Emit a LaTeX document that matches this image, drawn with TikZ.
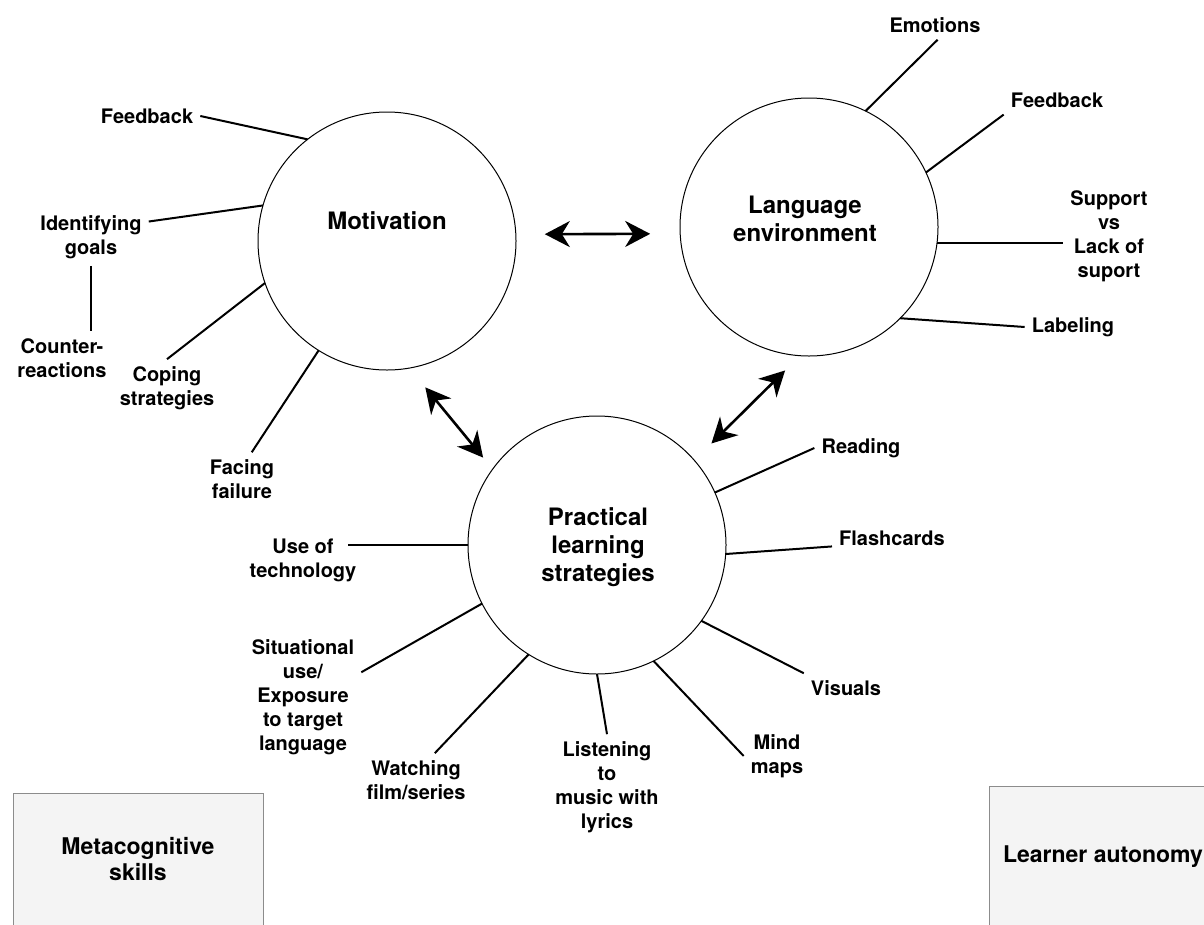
\documentclass[tikz,border=0pt]{standalone}
\usepackage{fontspec}
\setmainfont{TeX Gyre Heros}
\usetikzlibrary{arrows.meta}
\definecolor{boxfill}{HTML}{F4F4F4}
\definecolor{boxline}{HTML}{8C8C8C}

\begin{document}
\begin{tikzpicture}[x=1pt,y=-1pt,
    hub/.style={circle,draw,line width=1pt,minimum size=258pt,inner sep=0pt,outer sep=0pt},
    hubtext/.style={font=\fontsize{24}{28}\selectfont\bfseries,align=center},
    leaf/.style={font=\fontsize{20}{24}\selectfont\bfseries,align=center,inner sep=7pt},
    spoke/.style={line width=2pt},
    link/.style={line width=2.6pt,{Stealth[length=25pt,width=26pt,inset=8pt]}-{Stealth[length=25pt,width=26pt,inset=8pt]}},
    corner/.style={draw=boxline,fill=boxfill,line width=1pt,font=\fontsize{23}{26}\selectfont\bfseries,align=center}]
    \path[use as bounding box] (0,0) rectangle (1204,924);
    \clip (0,0) rectangle (1204,924);

    \node[hub] (mot) at (387,241) {};
    \node[hubtext] (mot-t) at (387,221) {Motivation};
    \node[hub] (lan) at (809,227) {};
    \node[hubtext] (lan-t) at (805,219) {Language\\environment};
    \node[hub] (prs) at (597,545) {};
    \node[hubtext] (prs-t) at (598,547) {Practical\\learning\\strategies};

    \node[leaf] (fb-m) at (147,116) {Feedback};
    \node[leaf] (goals) at (91,237) {Identifying\\goals};
    \node[leaf] (counter) at (62,358) {Counter-\\reactions};
    \node[leaf] (coping) at (167,388) {Coping\\strategies};
    \node[leaf] (failure) at (242,479) {Facing\\failure};

    \node[leaf] (emo) at (935,25) {Emotions};
    \node[leaf] (fb-l) at (1057,100) {Feedback};
    \node[leaf] (support) at (1109,236) {Support\\vs\\Lack of\\suport};
    \node[leaf] (label) at (1073,327) {Labeling};

    \node[leaf] (reading) at (861,448) {Reading};
    \node[leaf] (cards) at (892,538) {Flashcards};
    \node[leaf] (visuals) at (846,688) {Visuals};
    \node[leaf] (mind) at (777,756) {Mind\\maps};
    \node[leaf] (music) at (607,787) {Listening\\to\\music with\\lyrics};
    \node[leaf] (film) at (416,780) {Watching\\film/series};
    \node[leaf] (expo) at (303,697) {Situational\\use/\\Exposure\\to target\\language};
    \node[leaf] (tech) at (303,560) {Use of\\technology};

    \node[corner,minimum width=250pt,minimum height=132pt] (meta) at (138,859) {Metacognitive\\skills};
    \node[corner,minimum width=228pt,minimum height=142pt] (auto) at (1103,857) {Learner autonomy};

    \draw[spoke] (mot.128) -- (fb-m.east);
    \draw[spoke] (mot.164) -- (goals.15);
    \draw[spoke] (goals.south) -- (goals.south |- counter.north);
    \draw[spoke] (mot.199) -- (coping.north);
    \draw[spoke] (mot.238) -- (failure.70);

    \draw[spoke] (lan.64) -- (emo.-80);
    \draw[spoke] (lan.25) -- (fb-l.south west);
    \draw[spoke] (lan.-7) -- (lan.-7 -| support.west);
    \draw[spoke] (lan.-45) -- (label.west);

    \draw[spoke] (prs.24) -- (reading.west);
    \draw[spoke] (prs.-4) -- (cards.188);
    \draw[spoke] (prs.-36) -- (visuals.north west);
    \draw[spoke] (prs.-64) -- (mind.west);
    \draw[spoke] (prs.-90) -- (music.north);
    \draw[spoke] (prs.238) -- (film.55);
    \draw[spoke] (prs.207) -- (expo.23);
    \draw[spoke] (prs.west) -- ([xshift=-15pt]tech.east |- prs.west);

    \draw[link, shorten <=29pt, shorten >=30pt] (mot.3) -- (lan.183);
    \draw[link, shorten <=25pt, shorten >=15pt] (mot.-80) -- (prs.144);
    \draw[link, shorten <=24pt, shorten >=21pt] (prs.41) -- (lan.-94);
\end{tikzpicture}
\end{document}
